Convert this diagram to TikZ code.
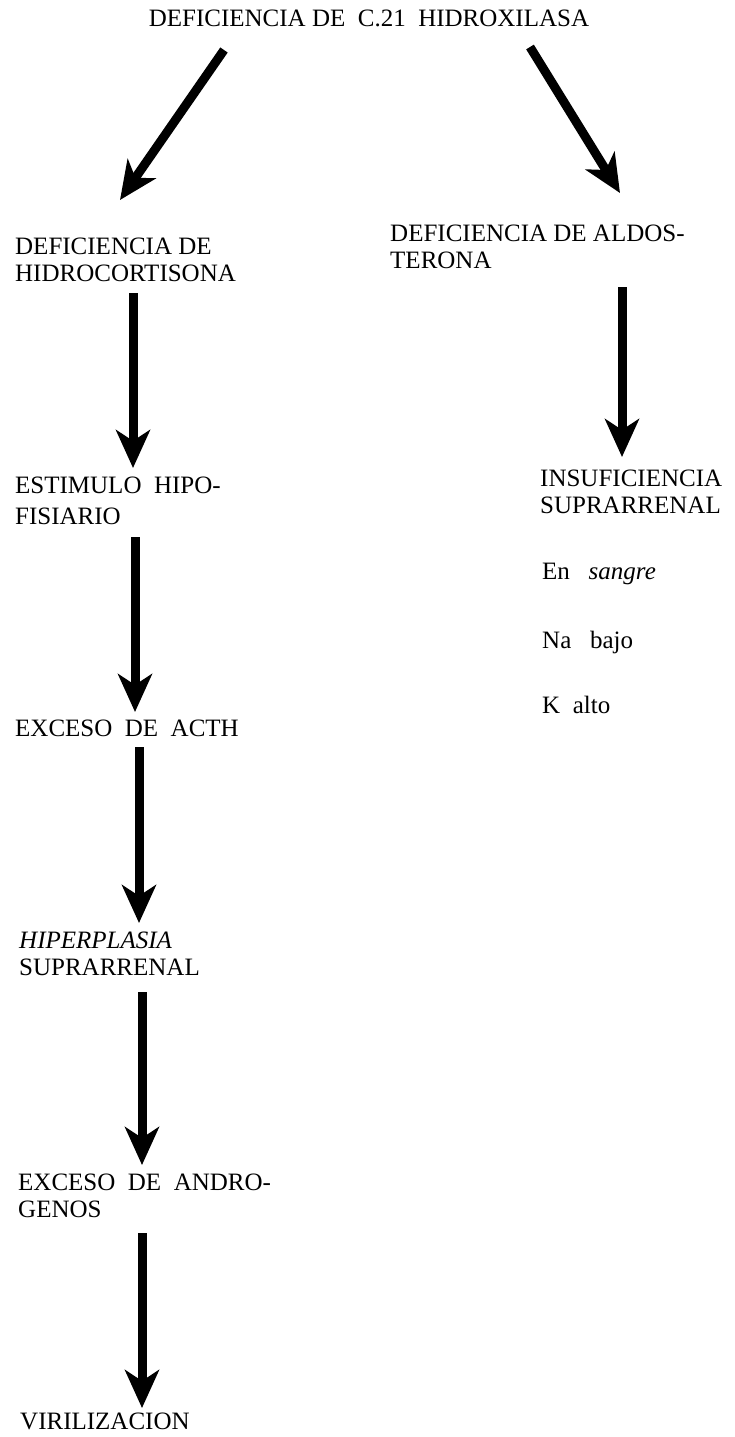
\documentclass[tikz,border=0pt]{standalone}
\usepackage{fontspec}
\setmainfont{Liberation Serif}
\usetikzlibrary{arrows.meta}
\begin{document}
\begin{tikzpicture}[x=1pt,y=-1pt,
  lbl/.style={anchor=north west, inner sep=0pt, align=left, text=black, font=\fontsize{25}{27}\selectfont},
  bigarrow/.style={line width=9pt, black, -{Stealth[length=38pt,width=34pt,inset=11pt]}}]
\useasboundingbox (0,0) rectangle (734,1437);
% texts
\node[lbl, anchor=north] (title) at (369,10) {DEFICIENCIA DE\ \ C.21\ \ HIDROXILASA};
\node[lbl] (hydro) at (15,238) {DEFICIENCIA DE\\HIDROCORTISONA};
\node[lbl] (aldo) at (390,225) {DEFICIENCIA DE ALDOS-\\TERONA};
\node[lbl, font=\fontsize{25}{31}\selectfont] (estim) at (15,477) {ESTIMULO\ \ HIPO-\\FISIARIO};
\node[lbl] (acth) at (15,720) {EXCESO\ \ DE\ \ ACTH};
\node[lbl] (hiper) at (19,932) {\textit{HIPERPLASIA}\\SUPRARRENAL};
\node[lbl] (andro) at (18,1174) {EXCESO\ \ DE\ \ ANDRO-\\GENOS};
\node[lbl] (viril) at (20,1413) {VIRILIZACION};
\node[lbl] (insuf) at (540,470) {INSUFICIENCIA\\SUPRARRENAL};
\node[lbl] (sangre) at (542,563) {En\ \ \ \textit{sangre}};
\node[lbl] (na) at (542,631) {Na\ \ \ bajo};
\node[lbl] (k) at (542,696) {K\ \ alto};
% arrow ends
\coordinate (dlS) at (224,50);  \coordinate (dlE) at (120,200);
\coordinate (drS) at (530,47);  \coordinate (drE) at (620,193);
\coordinate (a1S) at (133,293); \coordinate (a1E) at (133,468);
\coordinate (aRS) at (622,287); \coordinate (aRE) at (622,457);
\coordinate (a2S) at (135,537); \coordinate (a2E) at (135,712);
\coordinate (a3S) at (139,747); \coordinate (a3E) at (139,923);
\coordinate (a4S) at (142,992); \coordinate (a4E) at (142,1165);
\coordinate (a5S) at (142,1233); \coordinate (a5E) at (142,1408);
% arrows
\draw[bigarrow] (dlS) -- (dlE);
\draw[bigarrow] (drS) -- (drE);
\draw[bigarrow] (a1S) -- (a1E);
\draw[bigarrow] (aRS) -- (aRE);
\draw[bigarrow] (a2S) -- (a2E);
\draw[bigarrow] (a3S) -- (a3E);
\draw[bigarrow] (a4S) -- (a4E);
\draw[bigarrow] (a5S) -- (a5E);
\end{tikzpicture}
\end{document}
